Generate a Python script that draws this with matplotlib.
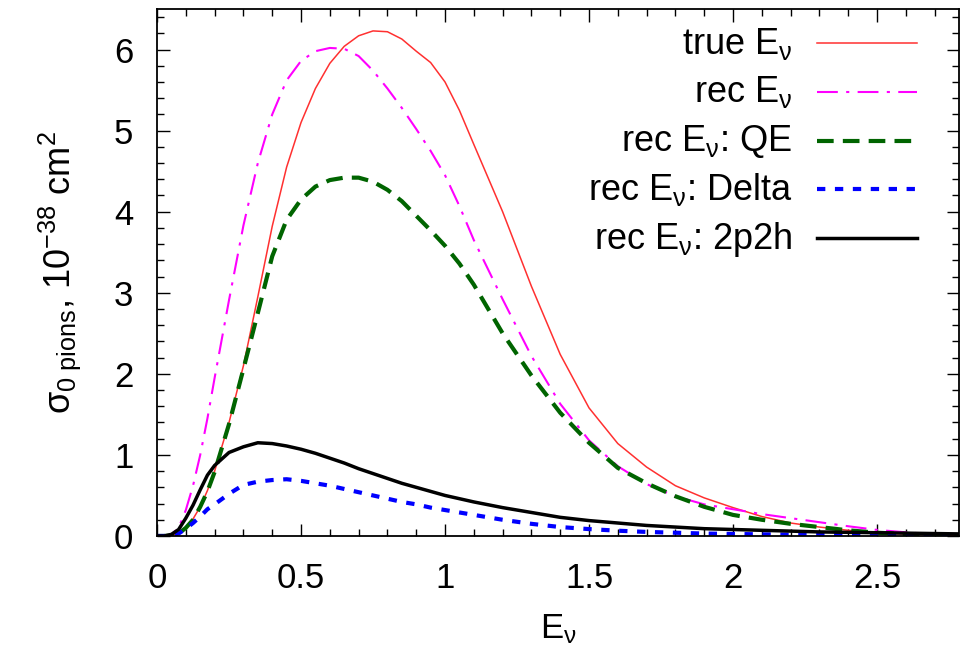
import matplotlib
matplotlib.use("Agg")
import matplotlib.pyplot as plt
from matplotlib.ticker import MultipleLocator

plt.rcParams["font.family"] = ["Liberation Sans", "DejaVu Sans"]
plt.rcParams["mathtext.fontset"] = "custom"
plt.rcParams["mathtext.rm"] = "Liberation Sans"
plt.rcParams["mathtext.it"] = "Liberation Sans"

# neutrino energy grid (GeV)
energy = [0, 0.025, 0.05, 0.075, 0.1, 0.125, 0.15, 0.175, 0.2, 0.25, 0.3,
          0.35, 0.4, 0.45, 0.5, 0.55, 0.6, 0.65, 0.7, 0.75, 0.8, 0.85, 0.9,
          0.95, 1.0, 1.05, 1.1, 1.2, 1.3, 1.4, 1.5, 1.6, 1.7, 1.8, 1.9, 2.0,
          2.1, 2.2, 2.3, 2.4, 2.5, 2.6, 2.7, 2.8]

# cross sections (10^-38 cm^2)
true_ev = [0, 0, 0.01, 0.03, 0.1, 0.21, 0.36, 0.56, 0.8, 1.4, 2.1, 2.95,
           3.82, 4.55, 5.1, 5.52, 5.83, 6.04, 6.17, 6.23, 6.22, 6.13, 5.98,
           5.84, 5.6, 5.25, 4.83, 4.0, 3.08, 2.24, 1.58, 1.14, 0.85, 0.62,
           0.47, 0.35, 0.24, 0.16, 0.11, 0.07, 0.04, 0.025, 0.012, 0.008]
rec_ev = [0, 0, 0.02, 0.1, 0.32, 0.62, 1.0, 1.45, 1.95, 2.91, 3.83, 4.6,
          5.2, 5.62, 5.86, 5.98, 6.02, 6.01, 5.92, 5.74, 5.52, 5.28, 5.02,
          4.75, 4.45, 4.07, 3.65, 2.92, 2.22, 1.63, 1.18, 0.86, 0.64, 0.49,
          0.39, 0.33, 0.27, 0.22, 0.17, 0.12, 0.075, 0.045, 0.022, 0.01]
rec_qe = [0, 0, 0.005, 0.03, 0.1, 0.2, 0.36, 0.55, 0.79, 1.38, 2.06, 2.75,
          3.45, 3.9, 4.15, 4.31, 4.39, 4.42, 4.42, 4.37, 4.27, 4.13, 3.95,
          3.77, 3.58, 3.36, 3.1, 2.5, 1.98, 1.52, 1.15, 0.84, 0.65, 0.49,
          0.36, 0.26, 0.2, 0.15, 0.11, 0.07, 0.04, 0.025, 0.015, 0.01]
rec_delta = [0, 0, 0.01, 0.03, 0.09, 0.16, 0.24, 0.33, 0.39, 0.52, 0.63,
             0.67, 0.69, 0.7, 0.68, 0.65, 0.62, 0.58, 0.54, 0.5, 0.46, 0.42,
             0.39, 0.35, 0.32, 0.29, 0.26, 0.2, 0.15, 0.11, 0.085, 0.065,
             0.05, 0.04, 0.03, 0.025, 0.02, 0.017, 0.014, 0.012, 0.01,
             0.008, 0.006, 0.005]
rec_2p2h = [0, 0, 0.02, 0.08, 0.22, 0.38, 0.57, 0.75, 0.87, 1.03, 1.1,
            1.15, 1.14, 1.11, 1.07, 1.02, 0.96, 0.9, 0.83, 0.77, 0.71, 0.65,
            0.6, 0.55, 0.5, 0.46, 0.42, 0.35, 0.29, 0.23, 0.19, 0.16, 0.13,
            0.11, 0.09, 0.08, 0.07, 0.06, 0.05, 0.045, 0.04, 0.035, 0.03,
            0.025]

series = [true_ev, rec_ev, rec_qe, rec_delta, rec_2p2h]
labels = [r"true E$_\mathrm{ν}$", r"rec E$_\mathrm{ν}$",
          r"rec E$_\mathrm{ν}$: QE", r"rec E$_\mathrm{ν}$: Delta",
          r"rec E$_\mathrm{ν}$: 2p2h"]
styles = [
    dict(color="#ff3030", lw=1.1),
    dict(color="#ff00ff", lw=1.5, dashes=(10, 4, 1.5, 4)),
    dict(color="#006400", lw=3, dashes=(4, 2.2)),
    dict(color="#0000ff", lw=3, dashes=(2, 2.3)),
    dict(color="black", lw=2.5),
]

fig = plt.figure(figsize=(9.61, 6.64), dpi=100)
ax = fig.add_axes([0.1634, 0.1928, 0.8346, 0.7936])

for y, st in zip(series, styles):
    ax.plot(energy, y, **st)

ax.set_xlim(0, 2.785)
ax.set_ylim(0, 6.5)
ax.set_xticks([0, 0.5, 1, 1.5, 2, 2.5])
ax.set_xticklabels(["0", "0.5", "1", "1.5", "2", "2.5"])
ax.xaxis.set_minor_locator(MultipleLocator(0.1))
ax.yaxis.set_major_locator(MultipleLocator(1))
ax.yaxis.set_minor_locator(MultipleLocator(0.2))
ax.tick_params(which="both", direction="in", top=True, right=True,
               labelsize=25, width=1.0)
ax.tick_params(which="major", length=9)
ax.tick_params(which="minor", length=5)
ax.tick_params(axis="x", which="major", pad=19)
ax.tick_params(axis="y", which="major", pad=17)
for s in ax.spines.values():
    s.set_linewidth(1.3)

ax.set_xlabel(r"E$_\mathrm{ν}$", fontsize=25, labelpad=12)
ax.set_ylabel(r"σ$_\mathrm{0\ pions}$, 10$^\mathrm{-38}$ cm$^\mathrm{2}$",
              fontsize=26, labelpad=22)

# legend: text right-aligned, sample line on the right (gnuplot style)
for i, (lab, st) in enumerate(zip(labels, styles)):
    yrow = 0.9355 - i * 0.0925
    ax.text(0.792, yrow - 0.02, lab, transform=ax.transAxes,
            ha="right", va="baseline", fontsize=26)
    ax.plot([0.823, 0.948], [yrow, yrow], transform=ax.transAxes, **st)

fig.savefig("out.png", dpi=100)
